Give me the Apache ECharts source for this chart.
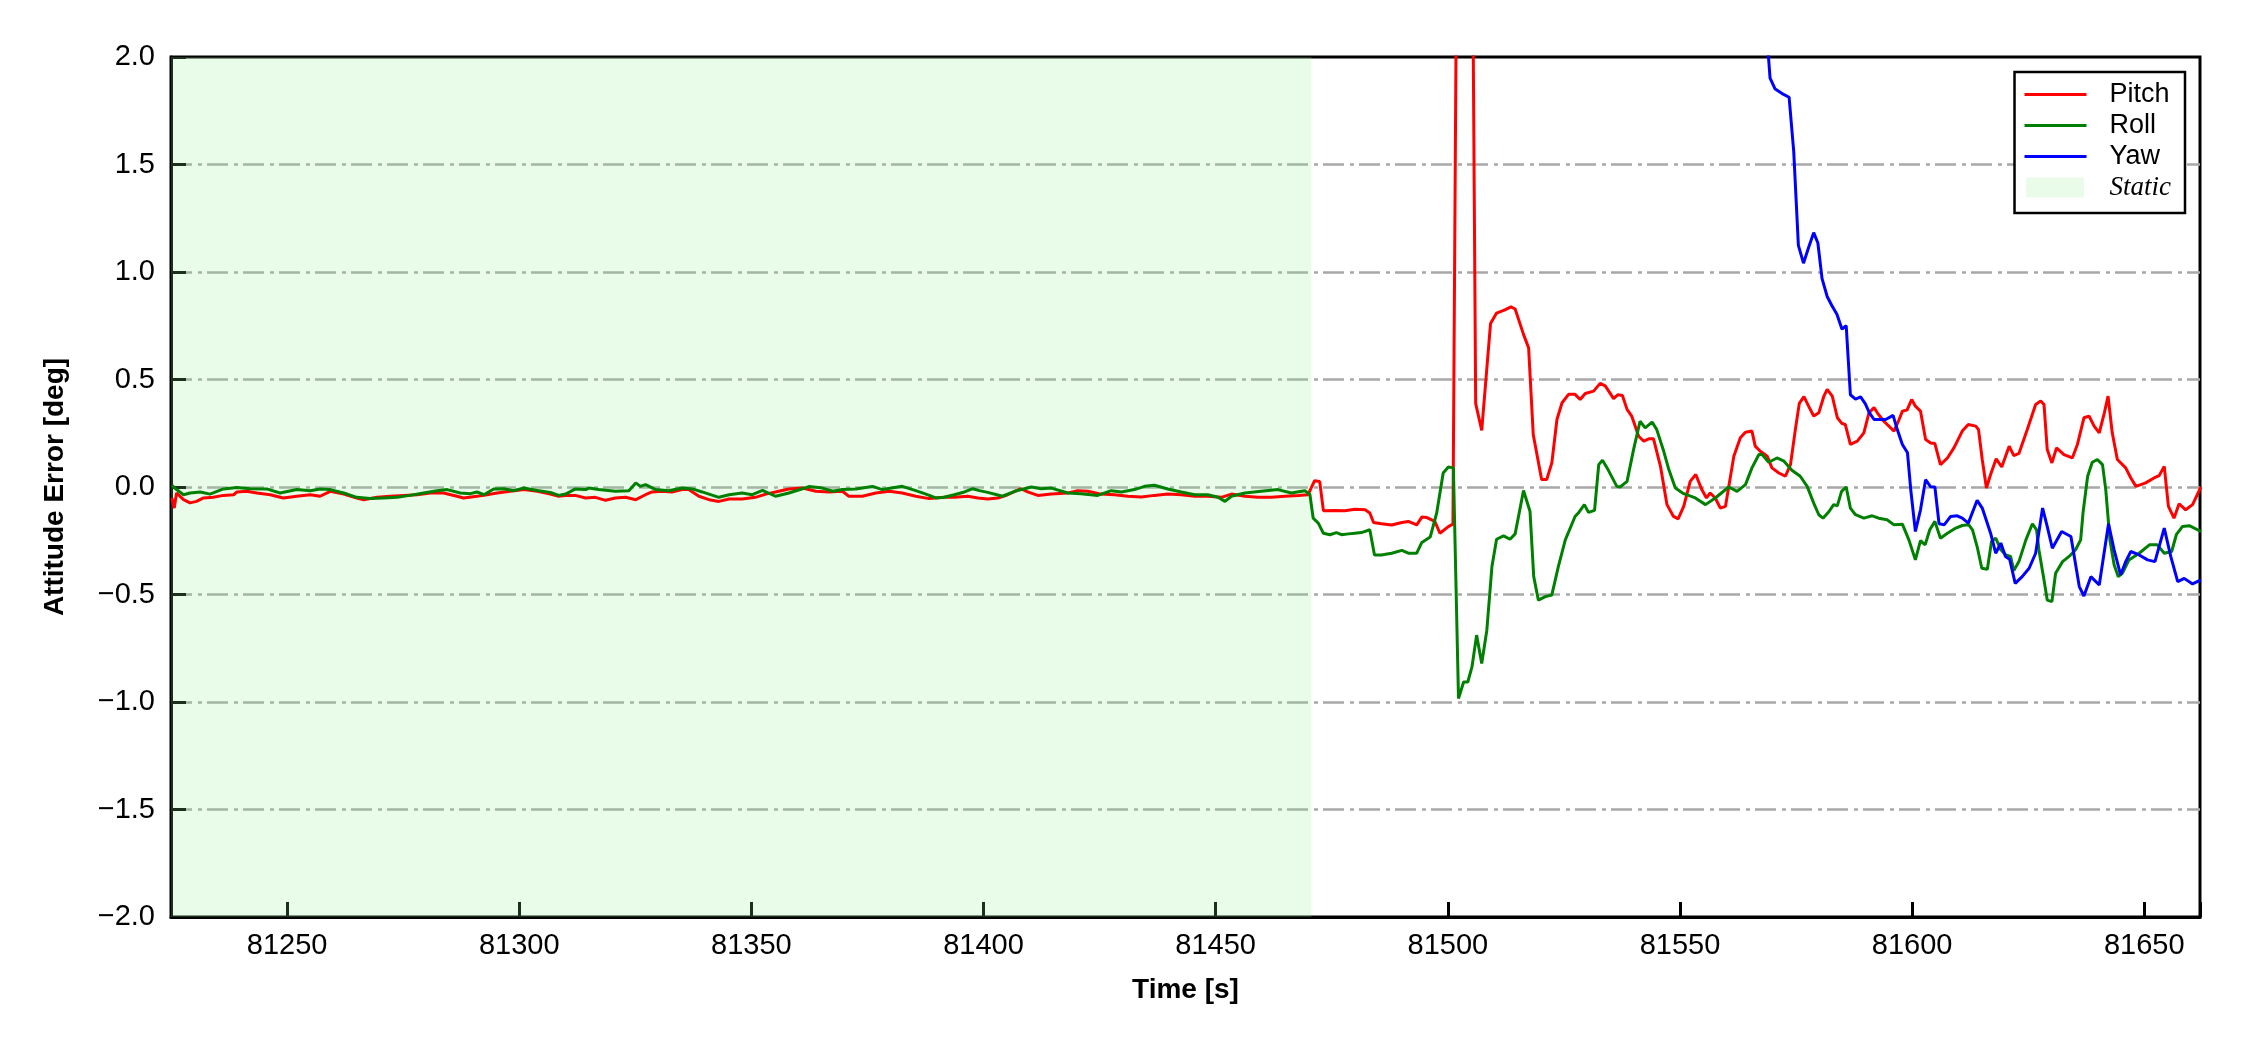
<!DOCTYPE html>
<html><head><meta charset="utf-8">
<script src="https://cdn.jsdelivr.net/npm/echarts@6/dist/echarts.min.js"></script>
<style>html,body{margin:0;padding:0;background:#fff}#chart{width:2250px;height:1050px}</style>
</head><body><div id="chart"></div>
<script>
// ---------- data ----------
const xRange = [81225, 81662];
const yRange = [-2, 2];
const yTickStep = 0.5;
const xTickStep = 50;
const staticSpan = [81225, 81470.6];
const seriesNames = ['Pitch', 'Roll', 'Yaw', 'Static'];

const pitchData = [
[81225.2,-0.051],[81225.7,-0.098],[81226.2,-0.028],[81227.7,-0.059],[81229.1,-0.074],[81230.5,-0.067],[81232.0,-0.051],[81234.1,-0.048],[81236.3,-0.039],[81238.5,-0.036],[81239.2,-0.023],[81241.3,-0.020],[81243.5,-0.028],[81246.4,-0.036],[81249.2,-0.051],[81252.1,-0.043],[81255.0,-0.036],[81257.1,-0.043],[81259.3,-0.020],[81262.2,-0.033],[81265.0,-0.051],[81266.5,-0.059],[81269.4,-0.048],[81272.2,-0.043],[81275.1,-0.039],[81278.0,-0.036],[81280.9,-0.028],[81283.7,-0.028],[81286.6,-0.043],[81288.0,-0.051],[81290.9,-0.043],[81292.4,-0.039],[81295.2,-0.028],[81298.1,-0.020],[81301.0,-0.012],[81303.9,-0.020],[81306.7,-0.033],[81308.5,-0.043],
[81310.0,-0.040],[81312.1,-0.039],[81314.3,-0.051],[81316.4,-0.048],[81318.6,-0.062],[81320.7,-0.051],[81322.9,-0.048],[81325.1,-0.059],[81327.2,-0.036],[81328.6,-0.023],[81330.8,-0.020],[81332.9,-0.023],[81335.1,-0.012],[81336.5,-0.012],[81338.7,-0.043],[81340.9,-0.059],[81343.0,-0.067],[81345.2,-0.056],[81348.0,-0.056],[81350.9,-0.048],[81353.1,-0.033],[81355.2,-0.023],[81358.1,-0.009],[81361.0,-0.005],[81363.9,-0.020],[81366.7,-0.023],[81369.6,-0.020],[81371.0,-0.043],[81373.9,-0.043],[81376.8,-0.028],[81379.7,-0.020],[81382.5,-0.028],[81385.4,-0.043],[81388.3,-0.054],[81391.5,-0.048],
[81393.7,-0.048],[81396.6,-0.043],[81398.8,-0.051],[81400.9,-0.056],[81403.1,-0.051],[81405.2,-0.036],[81408.1,-0.008],[81409.5,-0.023],[81411.7,-0.039],[81414.6,-0.033],[81418.2,-0.028],[81420.3,-0.017],[81422.5,-0.020],[81425.3,-0.033],[81428.2,-0.036],[81431.1,-0.043],[81434.0,-0.047],[81436.8,-0.039],[81439.7,-0.033],[81442.6,-0.036],[81445.5,-0.043],[81448.3,-0.043],[81451.2,-0.048],[81453.4,-0.033],[81456.3,-0.043],[81459.1,-0.048],[81462.0,-0.048],[81464.9,-0.043],[81467.8,-0.039],[81469.9,-0.036],[81470.6,-0.003],[81471.3,0.029],[81472.4,0.026],
[81473.2,-0.110],[81475.7,-0.109],[81477.8,-0.110],[81480.0,-0.103],[81482.2,-0.106],[81483.2,-0.121],[81484.0,-0.165],[81485.7,-0.171],[81487.9,-0.177],[81490.1,-0.165],[81491.5,-0.160],[81493.3,-0.176],[81494.4,-0.140],[81495.5,-0.142],[81497.2,-0.160],[81498.3,-0.215],[81500.1,-0.184],[81501.1,-0.173],
[81502.2,3.5],[81504.0,3.8],[81505.2,2.9],
[81506.0,0.388],[81507.3,0.263],[81509.2,0.761],[81510.5,0.809],[81512.3,0.824],[81513.6,0.838],[81514.5,0.828],[81516.3,0.710],[81517.4,0.647],[81518.4,0.243],[81520.2,0.035],[81521.3,0.035],[81522.4,0.112],[81523.5,0.314],[81524.6,0.392],[81526.0,0.431],
[81527.4,0.431],[81528.5,0.407],[81529.6,0.435],[81531.4,0.446],[81532.8,0.482],[81533.9,0.470],[81535.7,0.411],[81536.6,0.429],[81537.6,0.426],[81538.6,0.361],[81539.6,0.330],[81541.1,0.236],[81542.2,0.213],[81543.3,0.224],[81544.3,0.224],[81545.8,0.096],[81547.2,-0.082],[81548.6,-0.137],[81549.6,-0.148],[81550.8,-0.090],[81552.2,0.026],[81553.4,0.058],[81554.7,-0.012],[81555.7,-0.051],[81556.5,-0.028],[81557.6,-0.051],[81558.7,-0.098],[81559.8,-0.090],[81561.6,0.143],[81563.0,0.229],[81564.1,0.255],[81565.5,0.260],[81566.2,0.190],[81567.3,0.166],[81568.8,0.143],[81569.8,0.089],[81571.3,0.065],[81572.7,0.050],[81573.8,0.104],[81574.9,0.275],[81575.7,0.389],[81576.7,0.420],[81577.7,0.376],[81578.8,0.330],[81579.9,0.345],[81581.0,0.423],[81581.7,0.454],[81582.8,0.423],[81583.9,0.322],[81584.9,0.295],[81585.6,0.291],[81586.7,0.198],[81588.2,0.213],[81589.6,0.252],[81590.7,0.345],[81591.8,0.369],[81592.5,0.345],[81593.9,0.306],[81596.1,0.260],[81597.2,0.314],[81597.9,0.353],[81598.9,0.358],[81599.9,0.407],[81600.7,0.376],[81601.8,0.353],[81602.9,0.221],[81604.0,0.205],[81604.9,0.202],[81606.1,0.104],[81607.6,0.135],[81609.0,0.182],[81610.8,0.260],[81612.1,0.291],[81613.7,0.283],[81614.3,0.267],[81615.1,0.128],[81616.0,-0.005],[81616.9,0.058],[81618.1,0.131],[81619.3,0.093],[81620.9,0.190],[81621.9,0.146],[81623.0,0.156],[81624.8,0.267],[81626.6,0.384],[81627.7,0.400],[81628.4,0.384],[81629.1,0.174],[81630.1,0.112],[81631.1,0.182],[81632.7,0.151],[81634.5,0.135],[81635.6,0.198],[81637.0,0.322],[81638.1,0.330],[81639.2,0.283],[81640.3,0.252],[81641.4,0.345],[81642.2,0.423],[81643.1,0.252],[81644.2,0.128],[81646.0,0.089],[81647.1,0.042],[81648.2,0.003],[81650.3,0.019],[81652.1,0.042],[81653.2,0.053],[81654.3,0.096],[81655.2,-0.090],[81656.4,-0.145],[81657.5,-0.078],[81658.9,-0.106],[81660.4,-0.082],[81662.2,0.000]
];

const rollData = [
[81225.2,0.008],[81226.2,-0.012],[81227.7,-0.036],[81229.1,-0.028],[81231.3,-0.023],[81233.4,-0.033],[81236.3,-0.009],[81239.2,-0.002],[81242.0,-0.008],[81245.6,-0.009],[81248.5,-0.028],[81252.1,-0.012],[81255.0,-0.017],[81257.1,-0.009],[81259.3,-0.012],[81262.2,-0.028],[81265.0,-0.048],[81267.9,-0.054],[81270.8,-0.051],[81273.7,-0.048],[81276.5,-0.039],[81279.4,-0.028],[81282.3,-0.017],[81284.5,-0.012],[81287.3,-0.028],[81289.5,-0.031],[81290.9,-0.023],[81292.4,-0.036],[81294.5,-0.009],[81296.7,-0.008],[81298.8,-0.017],[81301.0,-0.005],[81303.9,-0.016],[81306.7,-0.025],[81308.5,-0.039],
[81310.0,-0.033],[81312.1,-0.009],[81314.3,-0.012],[81315.0,-0.005],[81317.1,-0.012],[81320.7,-0.020],[81323.6,-0.017],[81325.1,0.019],[81326.1,0.003],[81327.2,0.011],[81329.4,-0.012],[81332.2,-0.017],[81335.1,-0.005],[81337.3,-0.009],[81339.4,-0.023],[81343.0,-0.048],[81345.2,-0.036],[81348.0,-0.028],[81350.2,-0.036],[81352.4,-0.016],[81355.2,-0.043],[81358.1,-0.028],[81361.0,-0.008],[81362.4,0.002],[81365.3,-0.005],[81367.5,-0.020],[81369.6,-0.012],[81372.5,-0.009],[81373.9,-0.005],[81376.1,0.003],[81378.2,-0.012],[81382.5,0.003],[81385.4,-0.017],[81387.6,-0.033],[81389.7,-0.051],[81391.5,-0.048],
[81393.7,-0.036],[81395.9,-0.023],[81397.7,-0.008],[81399.1,-0.017],[81400.9,-0.025],[81404.1,-0.043],[81406.7,-0.020],[81410.3,0.000],[81412.4,-0.008],[81414.6,-0.005],[81418.2,-0.028],[81421.0,-0.031],[81424.6,-0.039],[81427.5,-0.017],[81429.7,-0.023],[81432.5,-0.012],[81434.7,0.003],[81436.8,0.008],[81439.7,-0.009],[81442.6,-0.023],[81445.5,-0.036],[81448.3,-0.036],[81450.5,-0.048],[81452.0,-0.067],[81453.4,-0.043],[81456.3,-0.028],[81459.8,-0.020],[81463.4,-0.012],[81466.3,-0.028],[81469.2,-0.017],[81470.3,-0.036],
[81471.0,-0.145],[81472.1,-0.168],[81473.2,-0.215],[81474.6,-0.222],[81476.0,-0.212],[81477.1,-0.222],[81478.6,-0.218],[81480.0,-0.215],[81481.4,-0.212],[81483.2,-0.199],[81484.2,-0.316],[81485.7,-0.316],[81487.9,-0.308],[81490.1,-0.295],[81491.5,-0.308],[81493.3,-0.308],[81494.4,-0.258],[81496.2,-0.233],[81497.6,-0.121],[81499.0,0.065],[81500.1,0.093],[81501.2,0.089],[81502.3,-0.984],[81503.4,-0.907],[81504.3,-0.907],[81505.2,-0.837],[81506.2,-0.689],[81507.3,-0.821],[81508.4,-0.666],[81509.5,-0.370],[81510.5,-0.243],[81512.0,-0.227],[81513.4,-0.243],[81514.5,-0.218],[81516.3,-0.016],[81517.7,-0.114],[81518.5,-0.417],[81519.5,-0.526],[81521.0,-0.510],[81522.4,-0.502],
[81523.8,-0.370],[81525.3,-0.246],[81527.4,-0.137],[81528.1,-0.121],[81529.4,-0.082],[81530.3,-0.118],[81531.6,-0.109],[81532.5,0.104],[81533.3,0.124],[81534.5,0.081],[81536.4,0.003],[81537.1,0.000],[81538.6,0.026],[81540.0,0.174],[81541.4,0.306],[81542.5,0.275],[81544.0,0.302],[81545.0,0.267],[81546.5,0.166],[81547.6,0.081],[81549.0,-0.005],[81550.8,-0.031],[81553.3,-0.051],[81555.5,-0.082],[81557.6,-0.051],[81560.5,0.000],[81562.3,-0.020],[81564.1,0.011],[81565.5,0.089],[81567.0,0.151],[81567.7,0.151],[81569.1,0.115],[81570.9,0.135],[81572.4,0.120],[81574.1,0.078],[81575.9,0.050],[81577.4,0.003],[81578.8,-0.075],[81579.9,-0.129],[81580.8,-0.145],[81582.1,-0.114],[81583.1,-0.082],[81583.9,-0.087],[81584.8,-0.020],[81585.8,0.000],[81586.7,-0.098],[81587.8,-0.129],[81589.6,-0.145],[81591.4,-0.134],
[81592.8,-0.145],[81594.6,-0.152],[81596.1,-0.176],[81597.9,-0.173],[81599.3,-0.246],[81600.7,-0.339],[81601.8,-0.249],[81602.8,-0.269],[81603.8,-0.199],[81604.9,-0.160],[81606.1,-0.238],[81607.6,-0.215],[81609.4,-0.191],[81610.8,-0.179],[81612.2,-0.176],[81613.0,-0.199],[81614.0,-0.277],[81615.0,-0.378],[81616.2,-0.383],[81617.1,-0.253],[81618.0,-0.238],[81619.1,-0.292],[81620.2,-0.316],[81621.2,-0.323],[81621.9,-0.389],[81623.0,-0.347],[81624.5,-0.246],[81625.9,-0.171],[81626.8,-0.199],[81627.3,-0.292],[81628.4,-0.432],[81629.1,-0.526],[81630.1,-0.533],[81630.9,-0.401],[81632.4,-0.347],[81633.8,-0.323],[81635.2,-0.292],[81636.3,-0.246],[81636.8,-0.121],[81637.8,0.050],[81638.8,0.115],[81639.9,0.128],[81641.0,0.104],[81641.7,-0.012],[81642.6,-0.246],[81643.5,-0.362],[81644.4,-0.417],[81645.3,-0.401],[81646.7,-0.339],[81648.9,-0.308],[81651.1,-0.269],[81652.8,-0.269],[81654.3,-0.308],[81655.9,-0.300],[81656.9,-0.222],[81658.2,-0.184],[81659.7,-0.180],[81662.2,-0.207]
];

const yawData = [
[81566.0,2.8],[81568.2,2.25],[81569.4,1.902],[81570.5,1.851],[81572.0,1.830],[81573.5,1.813],[81574.5,1.560],[81575.5,1.124],[81576.6,1.041],[81577.7,1.114],[81578.8,1.183],[81579.7,1.135],[81580.6,0.969],[81581.7,0.886],[81582.7,0.844],[81583.8,0.803],[81584.9,0.734],[81585.8,0.751],[81586.7,0.429],[81587.8,0.409],[81588.9,0.419],[81589.9,0.388],[81590.8,0.345],[81591.8,0.314],[81594.3,0.314],[81595.9,0.333],[81596.8,0.267],[81597.9,0.198],[81599.0,0.159],[81599.7,-0.012],[81600.7,-0.207],[81601.8,-0.106],[81602.9,0.034],[81604.0,0.000],[81604.9,0.000],[81605.8,-0.171],[81606.9,-0.176],[81608.3,-0.137],[81609.7,-0.134],[81610.8,-0.145],[81612.1,-0.168],[81614.0,-0.062],[81615.1,-0.098],[81616.9,-0.215],[81618.0,-0.308],[81619.1,-0.261],[81620.1,-0.323],[81621.0,-0.336],[81622.2,-0.448],[81623.7,-0.417],[81625.2,-0.378],[81626.6,-0.308],[81628.1,-0.098],[81629.1,-0.184],[81630.2,-0.285],[81632.2,-0.207],[81634.2,-0.230],[81636.0,-0.463],[81637.0,-0.507],[81638.5,-0.417],[81640.3,-0.456],[81642.3,-0.171],[81643.5,-0.292],[81644.9,-0.409],[81646.0,-0.347],[81647.1,-0.300],[81648.9,-0.316],[81650.7,-0.339],[81652.3,-0.347],[81654.3,-0.191],[81655.7,-0.323],[81657.2,-0.440],[81658.6,-0.425],[81660.4,-0.451],[81662.2,-0.432]
];

// ---------- styling ----------
const SANS = "'Liberation Sans', Arial, Helvetica, sans-serif";
const SERIF = "'Liberation Serif', 'Times New Roman', serif";
const colors = { Pitch: '#ff0000', Roll: '#008000', Yaw: '#0000ff', Static: 'rgba(144,238,144,0.2)' };
const lineIcon = 'path://M0,0L0.01,0L0,0.01Z M0,9.5L62,9.5L62,12.5L0,12.5Z M80,22L79.99,22L80,21.99Z';
const patchIcon = 'path://M0,0L0.01,0L0,0.01Z M1.5,1L59.5,1L59.5,21L1.5,21Z M80,22L79.99,22L80,21.99Z';

function fmtY(v) {
  const s = Math.abs(v).toFixed(1);
  return v < 0 ? '\u2212' + s : s;
}
function fmtX(v) {
  return (Math.abs(v % xTickStep) < 1e-6) ? String(Math.round(v)) : '';
}

function lineSeries(name, data) {
  return {
    name, type: 'line', data, showSymbol: false, symbol: 'none', clip: true,
    lineStyle: { color: colors[name], width: 3 },
    itemStyle: { color: colors[name] },
    emphasis: { disabled: true }, z: 3
  };
}

const chart = echarts.init(document.getElementById('chart'), null, { renderer: 'canvas' });
chart.setOption({
  animation: false,
  backgroundColor: '#ffffff',
  grid: { left: 171, right: 50, top: 57, bottom: 133, show: true, borderColor: '#000', borderWidth: 3, backgroundColor: 'transparent', outerBoundsMode: 'none' },
  legend: {
    orient: 'vertical', right: 65, top: 72,
    itemWidth: 80, itemHeight: 22, itemGap: 4,
    padding: [9, 14, 12, 10],
    borderColor: '#000', borderWidth: 2.5, borderRadius: 0, backgroundColor: '#fff',
    itemStyle: { borderWidth: 0 },
    selectedMode: false,
    textStyle: { fontFamily: SANS, fontSize: 27, color: '#000' },
    data: [
      { name: seriesNames[0], icon: lineIcon },
      { name: seriesNames[1], icon: lineIcon },
      { name: seriesNames[2], icon: lineIcon },
      { name: seriesNames[3], icon: patchIcon, textStyle: { fontFamily: SERIF, fontStyle: 'italic', fontSize: 27, color: '#000' } }
    ]
  },
  xAxis: {
    type: 'value', min: xRange[0], max: xRange[1],
    minInterval: xTickStep, maxInterval: xTickStep, splitNumber: 9,
    axisLine: { show: true, onZero: false, lineStyle: { color: '#000', width: 3 } },
    axisTick: { show: true, inside: true, length: 15, lineStyle: { color: '#000', width: 3 } },
    axisLabel: { margin: 14, fontSize: 29, fontFamily: SANS, color: '#000', formatter: fmtX, hideOverlap: false },
    splitLine: { show: false },
    name: 'Time [s]', nameLocation: 'middle', nameGap: 59,
    nameTextStyle: { fontSize: 28, fontWeight: 'bold', fontFamily: SANS, color: '#000' }
  },
  yAxis: {
    type: 'value', min: yRange[0], max: yRange[1], interval: yTickStep,
    axisLine: { show: true, onZero: false, lineStyle: { color: '#000', width: 3 } },
    axisTick: { show: true, inside: true, length: 15, lineStyle: { color: '#000', width: 3 } },
    axisLabel: { margin: 16, fontSize: 29, fontFamily: SANS, color: '#000', formatter: fmtY },
    splitLine: { show: true, showMinLine: false, showMaxLine: false, lineStyle: { color: '#a8a8a8', width: 2.5, type: [21, 6, 4, 5] } },
    name: 'Attitude Error [deg]', nameLocation: 'middle', nameGap: 102, nameRotate: 90,
    nameTextStyle: { fontSize: 28, fontWeight: 'bold', fontFamily: SANS, color: '#000' }
  },
  series: [
    lineSeries('Pitch', pitchData),
    lineSeries('Roll', rollData),
    lineSeries('Yaw', yawData),
    {
      name: 'Static', type: 'line', data: [], z: -1,
      itemStyle: { color: colors.Static }, lineStyle: { width: 0 },
      markArea: {
        silent: true,
        itemStyle: { color: colors.Static },
        data: [[{ xAxis: staticSpan[0] }, { xAxis: staticSpan[1] }]]
      }
    }
  ]
});
</script>
</body></html>
